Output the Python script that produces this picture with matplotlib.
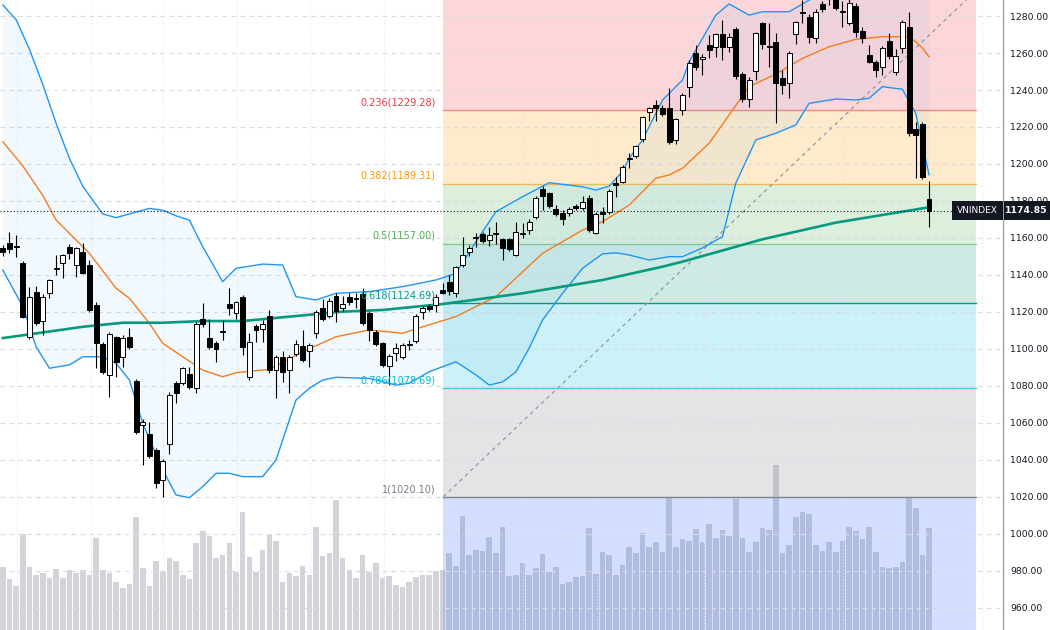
import matplotlib
matplotlib.use("Agg")
import matplotlib.pyplot as plt
from matplotlib.transforms import blended_transform_factory
from matplotlib.patches import Rectangle
import numpy as np

# ---------------- data ----------------
opens = [1154.6,1157.5,1155.0,1146.3,1106.6,1131.0,1115.0,1130.0,1143.2,1146.3,
         1155.3,1145.4,1152.6,1145.4,1123.8,1102.7,1086.0,1106.3,1095.5,1106.3,
         1082.7,1059.0,1053.9,1045.4,1029.2,1048.5,1081.5,1081.8,1086.5,1079.1,
         1116.0,1105.8,1103.4,1109.0,1124.3,1119.6,1128.3,1085.0,1112.4,1111.0,
         1117.8,1088.6,1095.5,1088.6,1097.3,1101.6,1098.9,1108.5,1122.0,1117.8,
         1128.6,1122.0,1128.3,1127.0,1129.7,1119.3,1109.3,1103.0,1090.8,1098.0,
         1095.8,1102.0,1104.3,1120.2,1123.4,1123.8,1131.9,1136.4,1130.4,1145.4,
         1152.4,1159.8,1162.2,1158.9,1162.3,1159.3,1159.3,1150.8,1162.3,1164.3,
         1171.5,1186.3,1184.2,1175.5,1173.7,1173.4,1177.3,1176.0,1181.8,1162.9,
         1173.9,1174.2,1189.6,1190.4,1202.5,1204.5,1213.3,1228.0,1231.9,1230.1,
         1230.1,1213.0,1229.2,1241.8,1259.8,1256.9,1264.3,1263.1,1270.3,1263.4,
         1272.8,1248.6,1235.1,1250.4,1276.1,1263.5,1266.1,1246.3,1243.9,1270.3,
         1281.8,1279.3,1268.0,1286.5,1289.0,1289.5,1282.1,1276.4,1285.4,1271.9,
         1258.9,1255.3,1252.3,1266.6,1249.9,1262.9,1274.2,1218.7,1221.6,1180.9]
highs = [1156.0,1163.4,1161.6,1147.5,1133.7,1134.0,1129.5,1138.0,1151.0,1151.5,
         1156.8,1155.0,1157.5,1148.0,1125.6,1104.0,1109.0,1107.0,1107.5,1111.6,
         1084.0,1062.0,1060.7,1046.5,1040.5,1076.5,1082.5,1090.5,1090.2,1114.5,
         1124.7,1116.0,1104.5,1115.7,1132.8,1126.0,1129.0,1108.4,1113.5,1115.8,
         1121.0,1096.5,1099.0,1097.0,1105.0,1110.0,1103.5,1121.0,1127.0,1127.5,
         1130.0,1128.5,1130.0,1130.0,1133.0,1120.5,1110.0,1104.0,1097.5,1103.0,
         1103.5,1105.0,1119.0,1123.0,1124.5,1129.5,1135.5,1140.0,1145.0,1160.7,
         1156.0,1162.5,1163.5,1166.1,1168.9,1160.0,1160.0,1168.9,1168.0,1170.0,
         1182.5,1188.0,1185.0,1178.0,1175.0,1177.0,1178.5,1182.5,1183.5,1174.0,
         1177.0,1186.5,1193.0,1199.5,1206.0,1210.5,1226.0,1231.0,1234.5,1232.0,
         1241.0,1225.0,1238.2,1256.0,1264.3,1259.5,1269.7,1271.0,1277.8,1270.6,
         1274.0,1249.5,1247.0,1271.5,1277.0,1276.1,1270.6,1250.8,1261.0,1277.5,
         1288.6,1281.0,1284.0,1288.0,1295.0,1291.0,1288.0,1289.0,1287.0,1274.0,
         1264.3,1256.0,1264.0,1270.6,1262.0,1278.0,1282.3,1222.8,1222.5,1190.6]
lows = [1150.0,1152.0,1149.9,1116.5,1105.5,1113.0,1107.6,1127.4,1140.0,1138.4,
        1148.5,1139.1,1140.5,1120.0,1089.7,1086.5,1074.2,1085.0,1090.5,1100.0,
        1054.0,1037.3,1041.0,1024.7,1020.2,1043.4,1070.9,1080.5,1078.5,1076.0,
        1112.0,1100.0,1093.0,1104.9,1118.4,1116.0,1096.8,1083.0,1104.0,1104.0,
        1087.0,1073.3,1082.3,1076.4,1096.0,1093.0,1090.4,1106.0,1115.0,1116.5,
        1114.8,1120.5,1123.8,1122.0,1113.0,1104.5,1101.5,1090.0,1080.5,1093.5,
        1094.5,1099.6,1103.0,1116.0,1120.5,1120.0,1129.5,1129.0,1128.3,1144.5,
        1150.0,1155.0,1157.5,1155.5,1157.0,1148.0,1153.0,1150.0,1160.0,1162.0,
        1170.0,1175.0,1176.0,1172.0,1167.0,1172.0,1175.0,1175.0,1163.0,1162.0,
        1168.0,1173.0,1182.0,1189.5,1198.0,1203.5,1212.0,1223.0,1223.0,1226.0,
        1211.0,1211.0,1226.5,1236.4,1251.0,1248.1,1257.1,1258.0,1256.2,1260.7,
        1246.0,1233.7,1231.0,1245.4,1262.0,1252.6,1222.0,1237.8,1235.5,1264.7,
        1276.0,1265.2,1265.2,1282.0,1286.0,1283.0,1274.0,1275.0,1268.8,1265.6,
        1254.4,1247.2,1248.1,1257.0,1248.1,1259.8,1215.0,1192.3,1192.0,1166.1]
closes = [1152.5,1154.0,1155.5,1117.5,1128.3,1113.9,1128.3,1137.3,1144.0,1150.8,
          1151.7,1154.4,1141.3,1121.1,1103.1,1087.7,1107.9,1093.1,1105.8,1101.2,
          1055.3,1060.5,1042.2,1027.7,1039.5,1075.1,1076.4,1089.6,1079.6,1113.3,
          1113.5,1101.2,1099.8,1109.6,1122.3,1125.2,1101.2,1104.0,1110.3,1113.5,
          1088.6,1095.5,1087.7,1095.5,1102.7,1094.0,1102.2,1120.2,1116.0,1126.1,
          1120.7,1124.3,1125.2,1127.6,1114.2,1110.0,1102.7,1091.4,1096.2,1100.4,
          1102.2,1102.4,1117.8,1122.0,1121.6,1128.3,1130.4,1131.5,1144.1,1150.8,
          1154.7,1160.7,1158.6,1161.6,1162.7,1154.4,1153.9,1163.4,1162.7,1168.9,
          1181.5,1182.9,1177.5,1172.8,1170.3,1175.5,1176.0,1179.6,1164.3,1172.8,
          1172.8,1185.6,1188.6,1198.5,1203.0,1209.7,1225.2,1230.1,1230.1,1227.0,
          1212.1,1224.2,1237.3,1254.8,1252.6,1258.0,1261.6,1270.3,1263.1,1268.8,
          1247.6,1235.1,1245.4,1270.6,1264.7,1264.0,1243.6,1242.7,1260.2,1276.6,
          1282.2,1268.5,1282.3,1283.6,1292.0,1284.2,1282.5,1287.2,1271.5,1268.3,
          1255.3,1250.8,1262.9,1258.5,1258.4,1276.9,1216.6,1215.7,1193.2,1174.85]
volumes = [314,257,220,480,314,277,284,262,307,262,
           299,284,300,275,460,299,284,239,209,229,
           565,309,220,347,292,360,345,274,255,437,
           494,470,359,375,437,292,589,367,292,400,
           475,444,239,285,270,322,275,514,369,384,
           649,360,299,260,374,292,335,262,269,224,
           215,239,265,277,275,297,300,384,320,570,
           374,400,395,465,385,515,269,275,337,274,
           309,380,292,315,230,239,265,270,510,280,
           390,377,275,324,415,385,485,415,439,392,
           664,414,455,445,505,440,530,460,499,472,
           657,460,390,440,510,500,825,385,425,565,
           590,582,425,395,440,390,445,514,495,455,
           515,390,315,309,315,340,664,610,377,510]

ma200_idx = [0, 12, 18, 24, 30, 36, 51, 57, 66, 78, 90, 99, 102, 114, 125, 139]
ma200_val = [1105.9, 1112.0, 1114.2, 1114.2, 1115.1, 1115.1, 1120.2, 1121.1, 1124.3,
             1130.1, 1137.3, 1144.5, 1147.2, 1159.3, 1168.3, 1176.6]

ma20_idx = [0, 3, 6, 8, 13, 17, 19, 22, 24, 27, 30, 33, 35, 40, 45, 50, 55, 60, 63, 68,
            74, 81, 87, 90, 94, 98, 100, 102, 106, 112, 116, 120, 124, 128, 132, 136,
            137, 138, 139]
ma20_val = [1212.0, 1199.0, 1183.0, 1169.7, 1151.7, 1132.8, 1127.4, 1113.9, 1103.1,
            1095.8, 1088.6, 1085.0, 1087.2, 1089.0, 1098.5, 1106.6, 1110.3, 1108.5,
            1112.0, 1117.5, 1128.3, 1151.7, 1164.3, 1168.8, 1177.8, 1192.3, 1194.1,
            1197.7, 1211.2, 1241.8, 1248.6, 1257.1, 1263.4, 1267.4, 1268.8, 1268.8,
            1266.1, 1262.7, 1258.0]

bb_up_idx = [0, 2, 4, 6, 8, 10, 12, 14, 15, 17, 20, 22, 24, 26, 28, 30, 33, 35, 39, 42,
             44, 47, 50, 55, 60, 65, 68, 71, 74, 78, 82, 87, 89, 91, 93, 94, 96, 99,
             102, 103, 107, 109, 112, 114, 118, 121, 124, 128, 132, 136, 139]
bb_up_val = [1286.0, 1278.0, 1262.0, 1243.0, 1222.0, 1203.0, 1188.0, 1178.0, 1173.0,
             1171.0, 1174.0, 1176.0, 1175.0, 1172.0, 1169.7, 1155.3, 1136.4, 1143.6,
             1145.9, 1145.4, 1128.3, 1126.5, 1130.1, 1131.0, 1133.7, 1137.3, 1140.9,
             1158.0, 1174.2, 1182.3, 1189.9, 1187.7, 1185.9, 1188.0, 1196.0, 1203.0,
             1213.0, 1234.6, 1245.4, 1255.3, 1280.5, 1286.5, 1280.5, 1282.3, 1282.3,
             1288.6, 1294.0, 1297.0, 1298.0, 1300.0, 1304.0]

bb_lo_idx = [0, 3, 5, 7, 10, 12, 15, 17, 19, 21, 24, 26, 28, 30, 32, 34, 36, 39, 41, 44,
             46, 48, 50, 55, 59, 61, 64, 68, 71, 73, 75, 77, 79, 81, 84, 87, 90, 92,
             94, 97, 100, 102, 105, 108, 110, 113, 116, 119, 121, 125, 128, 130, 132,
             135, 137, 139]
bb_lo_val = [1142.7, 1122.9, 1101.2, 1089.6, 1091.4, 1095.8, 1095.8, 1092.3, 1083.2,
             1059.8, 1034.6, 1021.1, 1019.6, 1025.6, 1032.8, 1032.8, 1031.0, 1031.0,
             1040.0, 1072.4, 1078.8, 1083.2, 1084.7, 1084.1, 1080.5, 1081.5, 1087.7,
             1093.1, 1086.0, 1080.5, 1082.2, 1087.6, 1100.5, 1115.7, 1130.1, 1143.6,
             1151.4, 1152.0, 1150.8, 1148.1, 1149.9, 1149.9, 1154.6, 1160.7, 1189.6,
             1213.0, 1216.6, 1221.1, 1232.8, 1235.1, 1234.6, 1235.5, 1241.8, 1240.4,
             1227.4, 1194.1]

fib_labels = ["0", "0.236", "0.382", "0.5", "0.618", "0.786", "1", "1.618"]
fib_prices = [1293.90, 1229.28, 1189.31, 1157.00, 1124.69, 1078.69, 1020.10, 850.88]
fib_colors = ["#787b86", "#f23645", "#ff9800", "#4caf50", "#089981", "#00bcd4",
              "#787b86", "#2962ff"]
fib_x0, fib_x1 = 66.1, 146.1

last_price = 1174.85
symbol = "VNINDEX"
price_ticks = list(range(960, 1281, 20))
vgrid_idx = [2.2, 13.3, 24.0, 35.1, 46.1, 57.2, 78.1, 89.2, 105.2, 126.1, 147.0]

# ---------------- figure ----------------
W, H = 1050, 630
fig = plt.figure(figsize=(W / 100, H / 100), dpi=100)
fig.patch.set_facecolor("white")
rect = [0, 0, 1003 / W, 1]
xlim = (-0.42, 150.1)
ylim = (948.1, 1288.65)

# volume axes (underneath)
vax = fig.add_axes(rect)
vax.set_xlim(*xlim)
vax.set_ylim(0, 3150)
vax.bar(range(len(volumes)), volumes, width=0.84, color="#d3d4d9", zorder=1)
vax.axis("off")

ax = fig.add_axes(rect)
ax.set_facecolor("none")
ax.set_xlim(*xlim)
ax.set_ylim(*ylim)

# grid
ax.set_yticks(price_ticks)
ax.set_yticklabels([f"{v:.2f}" for v in price_ticks])
ax.set_xticks(vgrid_idx)
ax.set_xticklabels([])
ax.grid(axis="y", color="#d8dbe2", linestyle=(0, (4, 4)), linewidth=0.8, zorder=0)
ax.grid(axis="x", color="#e3e5ea", linestyle=(0, (1, 2)), linewidth=0.8, zorder=0)
ax.tick_params(axis="x", length=0)
ax.yaxis.tick_right()
ax.tick_params(axis="y", length=0, pad=5, labelsize=6.7, labelcolor="#131722")
for s in ["left", "top", "bottom"]:
    ax.spines[s].set_visible(False)
ax.spines["right"].set_color("#9a9ca3")
ax.spines["right"].set_linewidth(0.9)

# fib zones
for k in range(1, len(fib_prices)):
    top, bot = fib_prices[k - 1], fib_prices[k]
    ax.fill_between([fib_x0, fib_x1], [bot, bot], [top, top],
                    color=fib_colors[k], alpha=0.2, linewidth=0, zorder=1.5)
line_alpha = [1, 0.55, 0.6, 0.55, 1, 0.7, 0.9, 1]
for k, (lv, c) in enumerate(zip(fib_prices, fib_colors)):
    ax.plot([fib_x0, fib_x1], [lv, lv], color=c, lw=1.0, alpha=line_alpha[k], zorder=1.6)
for k in range(1, 7):
    ax.annotate(f"{fib_labels[k]}({fib_prices[k]:.2f})", xy=(64.9, fib_prices[k]),
                xytext=(0, 2), textcoords="offset points", ha="right", va="bottom",
                fontsize=7, color=fib_colors[k], zorder=6)
# diagonal trend line
ax.plot([fib_x0, fib_x1], [fib_prices[6], fib_prices[0]], color="#9598a1", lw=0.9,
        linestyle=(0, (3, 3)), zorder=2.7)

# bollinger
xs = np.arange(len(closes))
up_i = np.interp(xs, bb_up_idx, bb_up_val)
lo_i = np.interp(xs, bb_lo_idx, bb_lo_val)
ax.fill_between(xs, lo_i, up_i, color="#2196f3", alpha=0.055, linewidth=0, zorder=2)
ax.plot(bb_up_idx, bb_up_val, color="#2196f3", lw=1.0, zorder=3)
ax.plot(bb_lo_idx, bb_lo_val, color="#2196f3", lw=1.0, zorder=3)

# moving averages
ax.plot(ma20_idx, ma20_val, color="#f57c1f", lw=1.0, zorder=3.2)
ax.plot(ma200_idx, ma200_val, color="#089981", lw=1.9, zorder=3.3)

# last price dotted line
ax.axhline(last_price, color="#131722", lw=0.8, linestyle=(0, (1, 2)), zorder=3.4)

# candles
bw = 0.74
for i, (o, h, l, c) in enumerate(zip(opens, highs, lows, closes)):
    ax.plot([i, i], [l, h], color="black", lw=0.8, zorder=4, solid_capstyle="butt")
    bot = min(o, c)
    hgt = max(abs(c - o), 0.45)
    fc = "white" if c >= o else "black"
    ax.add_patch(Rectangle((i - bw / 2, bot), bw, hgt, facecolor=fc,
                           edgecolor="black", lw=0.7, zorder=4.5))

# last price labels (boxes in figure pixels)
yfrac = ax.transData.transform((0, last_price))[1] / H
bh = 19 / H
fig.patches.append(Rectangle((952 / W, yfrac - bh / 2), 51 / W, bh, transform=fig.transFigure,
                             facecolor="#131722", edgecolor="none", zorder=20))
fig.patches.append(Rectangle((1003.5 / W, yfrac - bh / 2), 46.5 / W, bh,
                             transform=fig.transFigure, facecolor="#131722",
                             edgecolor="none", zorder=20))
fig.text(977.5 / W, yfrac, symbol, ha="center", va="center", fontsize=6.5,
         color="white", zorder=21)
fig.text(1026.5 / W, yfrac, f"{last_price:.2f}", ha="center", va="center", fontsize=6.7,
         color="white", fontweight="bold", zorder=21)

fig.savefig("out.png", dpi=100)
